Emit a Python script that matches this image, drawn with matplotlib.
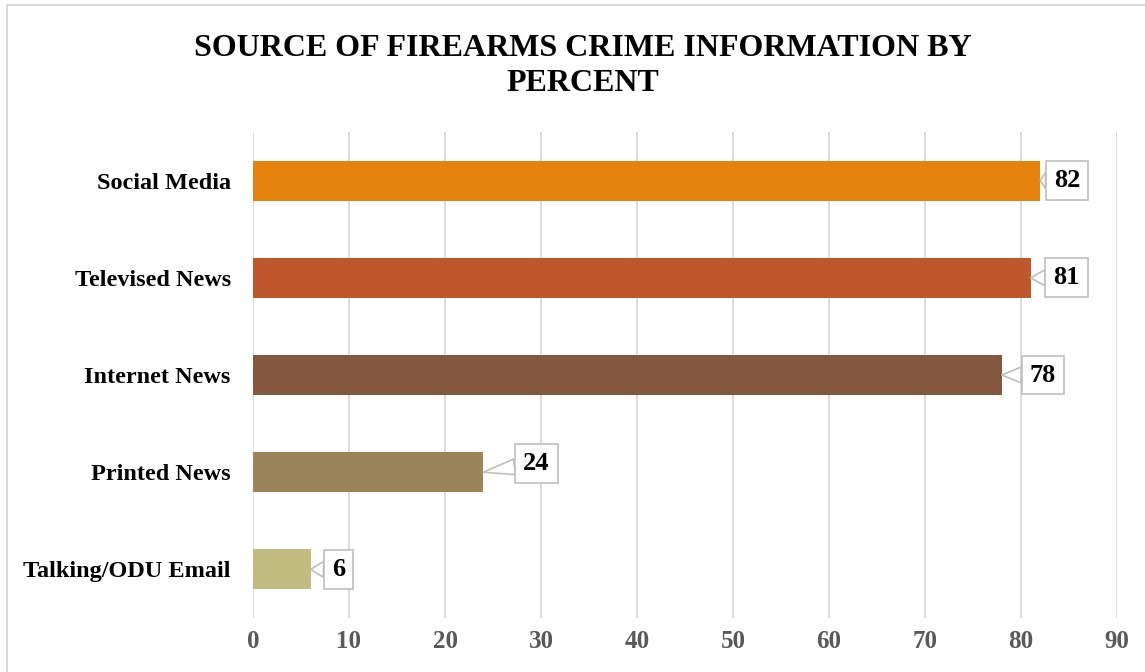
"""Source of firearms crime information by percent"""

import matplotlib
matplotlib.use("Agg")
import matplotlib.pyplot as plt
from matplotlib.patches import Rectangle

categories = ["Talking/ODU Email", "Printed News", "Internet News", "Televised News", "Social Media"]
values = [6, 24, 78, 81, 82]
colors = ["#C2BC80", "#9A8458", "#84573F", "#BE582C", "#E6830F"]
# label box offsets (pixels) from bar end
label_dx = [28, 53, 41, 36, 27]
label_dy = [0, 9, 0, 0, 0]

plt.rcParams["font.family"] = ["Liberation Serif", "DejaVu Serif"]

fig = plt.figure(figsize=(11.45, 6.72), dpi=100)
ax = fig.add_axes([253 / 1145, 1 - 618 / 672, (1117 - 253) / 1145, 486 / 672])

ypos = list(range(len(categories)))
ax.barh(ypos, values, height=0.41, color=colors, zorder=2)

ax.set_xlim(0, 90)
ax.set_ylim(-0.5, 4.5)
ax.set_xticks(range(0, 91, 10))
ax.set_yticks(ypos)
ax.set_yticklabels(categories, fontsize=17.5, fontweight="bold", color="black")
for lab in ax.get_xticklabels():
    lab.set_fontsize(18)
    lab.set_fontweight("bold")
    lab.set_color("#595959")
ax.tick_params(axis="both", length=0)
ax.tick_params(axis="y", pad=16)
ax.tick_params(axis="x", pad=9)
ax.grid(axis="x", color="#D9D9D9", linewidth=1.3, zorder=0)
for s in ax.spines.values():
    s.set_visible(False)

for y, v, dx, dy in zip(ypos, values, label_dx, label_dy):
    ax.annotate(
        str(v), xy=(v, y), xytext=(dx, dy), textcoords="offset pixels",
        ha="center", va="center", fontsize=19, fontweight="bold", color="black",
        bbox=dict(boxstyle="square,pad=0.3", fc="white", ec="#BFBFBF", lw=1.2),
        arrowprops=dict(arrowstyle="wedge,tail_width=0.6,shrink_factor=0.5",
                        fc="white", ec="#BFBFBF", lw=1.2, shrinkA=0, shrinkB=0),
        zorder=5,
    )

fig.text(583 / 1145, 1 - 66 / 672, "SOURCE OF FIREARMS CRIME INFORMATION BY\nPERCENT",
         ha="center", va="center", fontsize=23, fontweight="bold", linespacing=1.25)

fig.patches.append(Rectangle((7 / 1145, -0.05), 1.1, 1 - 5 / 672 + 0.05,
                             transform=fig.transFigure, fill=False,
                             ec="#D9D9D9", lw=1.5))

fig.savefig("out.png", dpi=100)
